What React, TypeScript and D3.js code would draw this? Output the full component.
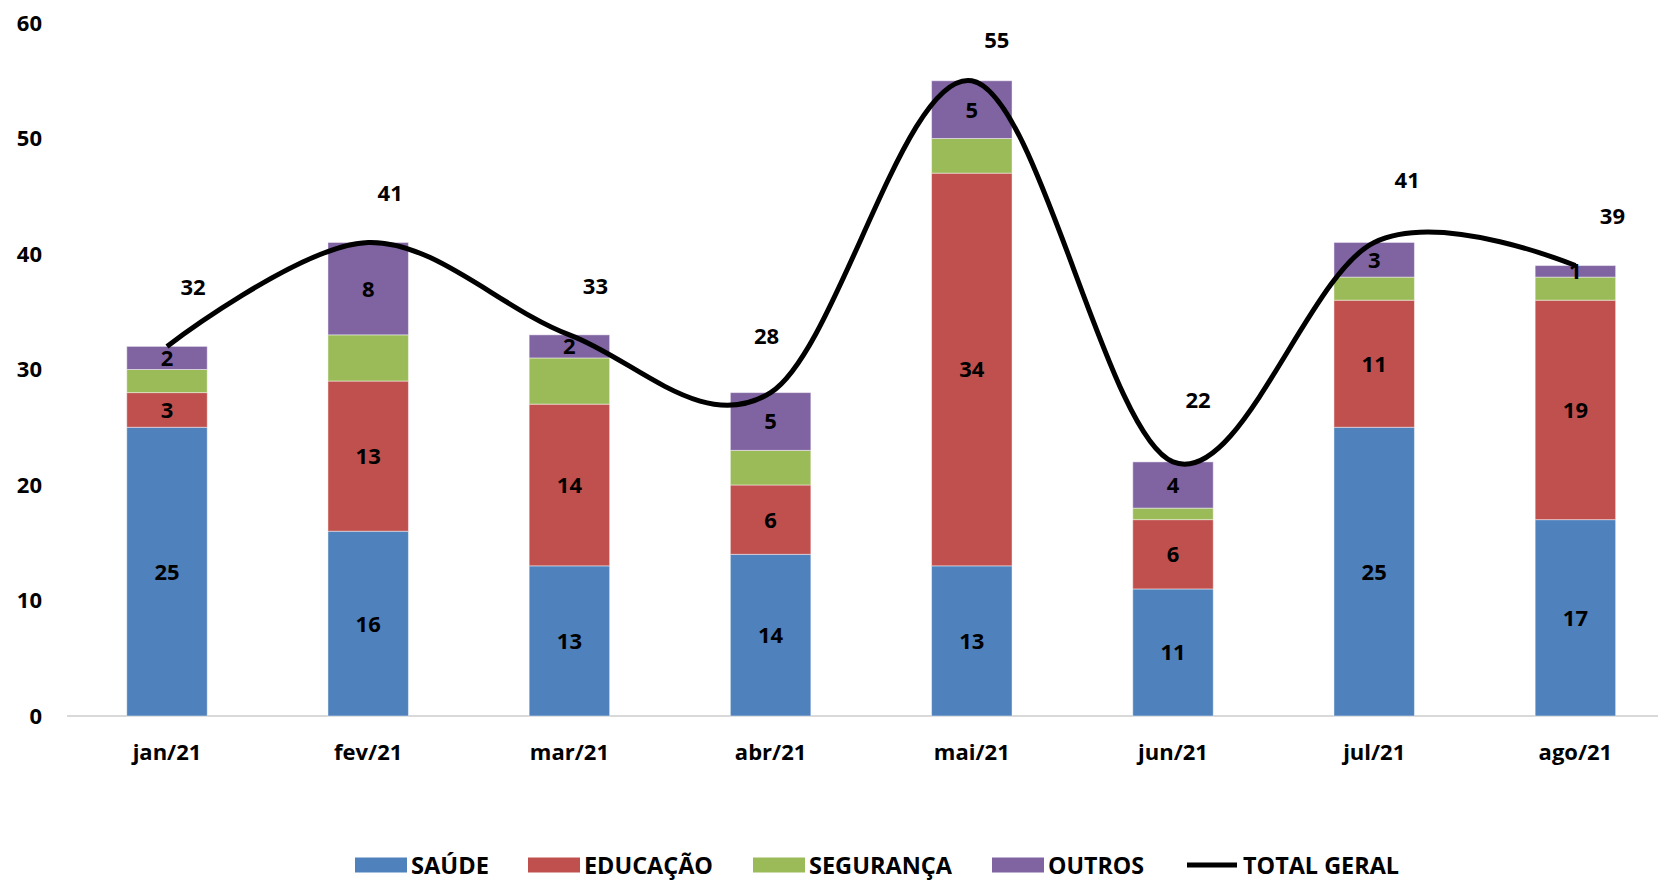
import React from "react";
import * as d3 from "d3";

const months = ["jan/21", "fev/21", "mar/21", "abr/21", "mai/21", "jun/21", "jul/21", "ago/21"];
const saude = [25, 16, 13, 14, 13, 11, 25, 17];
const educacao = [3, 13, 14, 6, 34, 6, 11, 19];
const seguranca = [2, 4, 4, 3, 3, 1, 2, 2];
const outros = [2, 8, 2, 5, 5, 4, 3, 1];
const totalGeral = [32, 41, 33, 28, 55, 22, 41, 39];
const yTicks = [0, 10, 20, 30, 40, 50, 60];

// nudges for the total labels, dragged by hand in the original
const totalLabelDx = [26, 22, 26, -4, 25, 25, 33, 37];
const totalLabelDy = [-59, -49, -49, -57, -41, -62, -62, -49];

const series = [
	{ name: "SAÚDE", values: saude, color: "#4F81BD", labels: true },
	{ name: "EDUCAÇÃO", values: educacao, color: "#C0504D", labels: true },
	{ name: "SEGURANÇA", values: seguranca, color: "#9BBB59", labels: false },
	{ name: "OUTROS", values: outros, color: "#8064A2", labels: true },
];

const W = 1658;
const H = 881;
const FONT = "'Open Sans', 'Segoe UI', sans-serif";

const App: React.FC = () => {
	const x = d3.scaleBand().domain(months).range([66.4, 1676]).paddingInner(0.6).paddingOuter(0.3);
	const y = d3.scaleLinear().domain([0, 60]).range([716, 23]);

	const stacked = d3
		.stack<number>()
		.keys(series.map((_, i) => String(i)))
		.value((i, k) => series[+k].values[i])(months.map((_, i) => i));

	const cx = (m: string) => x(m)! + x.bandwidth() / 2;

	const line = d3
		.line<number>()
		.x((_, i) => cx(months[i]))
		.y((d) => y(d))
		.curve(d3.curveCardinal.tension(0));

	const legend = [
		{ name: "SAÚDE", color: "#4F81BD", x: 355, tw: 78, kind: "rect" },
		{ name: "EDUCAÇÃO", color: "#C0504D", x: 528, tw: 129, kind: "rect" },
		{ name: "SEGURANÇA", color: "#9BBB59", x: 753, tw: 143, kind: "rect" },
		{ name: "OUTROS", color: "#8064A2", x: 992, tw: 96, kind: "rect" },
		{ name: "TOTAL GERAL", color: "#000", x: 1187, tw: 156, kind: "line" },
	];
	const legendY = 865;

	return (
		<svg width={W} height={H} style={{ position: "absolute", left: 0, top: 0, background: "#fff" }} fontFamily={FONT}>
			<line x1={67} x2={W} y1={y(0)} y2={y(0)} stroke="#D9D9D9" strokeWidth={2} />
			{yTicks.map((t) => (
				<text key={t} x={42} y={y(t)} dy="0.36em" textAnchor="end" fontSize={22} fontWeight={700}>
					{t}
				</text>
			))}
			{months.map((m) => (
				<text key={m} x={cx(m)} y={752} dy="0.36em" textAnchor="middle" fontSize={22} fontWeight={700}>
					{m}
				</text>
			))}
			{stacked.map((layer, si) => (
				<g key={si}>
					{layer.map((d, i) => (
						<rect
							key={i}
							x={x(months[i])}
							width={x.bandwidth()}
							y={y(d[1])}
							height={y(d[0]) - y(d[1])}
							fill={series[si].color}
							stroke="#ffffff"
							strokeOpacity={0.45}
							strokeWidth={1}
						/>
					))}
				</g>
			))}
			{stacked.map((layer, si) =>
				series[si].labels ? (
					<g key={"l" + si}>
						{layer.map((d, i) => (
							<text
								key={i}
								x={cx(months[i])}
								y={y((d[0] + d[1]) / 2)}
								dy="0.36em"
								textAnchor="middle"
								fontSize={22}
								fontWeight={700}
							>
								{series[si].values[i]}
							</text>
						))}
					</g>
				) : null
			)}
			<path d={line(totalGeral) || ""} fill="none" stroke="#000" strokeWidth={5} />
			{totalGeral.map((v, i) => (
				<text
					key={i}
					x={cx(months[i]) + totalLabelDx[i]}
					y={y(v) + totalLabelDy[i]}
					dy="0.36em"
					textAnchor="middle"
					fontSize={22}
					fontWeight={700}
				>
					{v}
				</text>
			))}
			{legend.map((l) => (
				<g key={l.name}>
					{l.kind === "rect" ? (
						<rect x={l.x} y={legendY - 7.5} width={52} height={15} fill={l.color} />
					) : (
						<line x1={l.x} x2={l.x + 50} y1={legendY} y2={legendY} stroke="#000" strokeWidth={5} />
					)}
					<text
						x={l.x + 56}
						y={legendY}
						dy="0.36em"
						fontSize={24}
						fontWeight={700}
						textLength={l.tw}
						lengthAdjust="spacingAndGlyphs"
					>
						{l.name}
					</text>
				</g>
			))}
		</svg>
	);
};

export default App;
